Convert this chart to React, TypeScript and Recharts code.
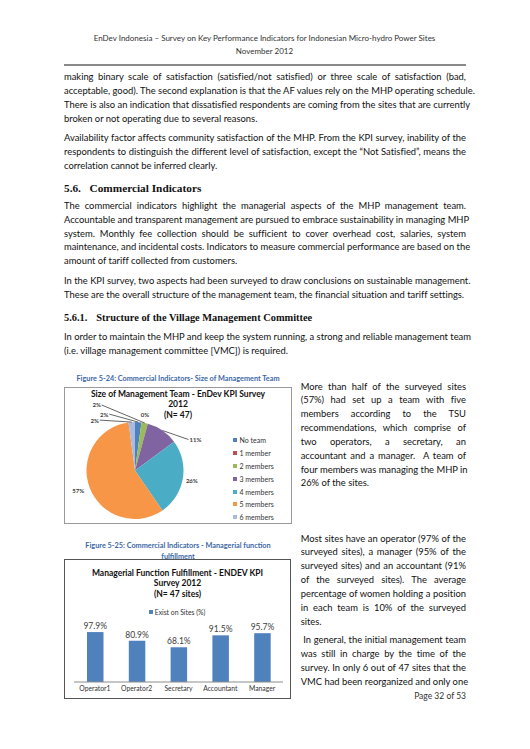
import { PieChart, Pie, Cell, Legend, BarChart, Bar, XAxis, YAxis, LabelList } from 'recharts'

// pie: size of management team (sites out of 47)
const teamSizes = ['No team', '1 member', '2 members', '3 members', '4 members', '5 members', '6 members']
const teamSites = [1, 0, 1, 5, 12, 27, 1]
const teamColors = ['#4F81BD', '#C0504D', '#9BBB59', '#8064A2', '#4BACC6', '#F79646', '#A9BBDF']

// bars: managerial function fulfillment
const roles = ['Operator1', 'Operator2', 'Secretary', 'Accountant', 'Manager']
const roleShares = [97.9, 80.9, 68.1, 91.5, 95.7]

const teamData = teamSizes.map((size, i) => ({ size, sites: teamSites[i] }))
const roleData = roles.map((role, i) => ({ role, share: roleShares[i] }))

const headerLines = [
  'EnDev Indonesia \u2013 Survey on Key Performance Indicators for Indonesian Micro-hydro Power Sites',
  'November 2012',
]

const para1 = [
  'making binary scale of satisfaction (satisfied/not satisfied) or three scale of satisfaction (bad,',
  'acceptable, good). The second explanation is that the AF values rely on the MHP operating schedule.',
  'There is also an indication that dissatisfied respondents are coming from the sites that are currently',
  'broken or not operating due to several reasons.',
]
const para2 = [
  'Availability factor affects community satisfaction of the MHP. From the KPI survey, inability of the',
  'respondents to distinguish the different level of satisfaction, except the \u201cNot Satisfied\u201d, means the',
  'correlation cannot be inferred clearly.',
]
const para3 = [
  'The commercial indicators highlight the managerial aspects of the MHP management team.',
  'Accountable and transparent management are pursued to embrace sustainability in managing MHP',
  'system. Monthly fee collection should be sufficient to cover overhead cost, salaries, system',
  'maintenance, and incidental costs. Indicators to measure commercial performance are based on the',
  'amount of tariff collected from customers.',
]
const para4 = [
  'In the KPI survey, two aspects had been surveyed to draw conclusions on sustainable management.',
  'These are the overall structure of the management team, the financial situation and tariff settings.',
]
const para5 = [
  'In order to maintain the MHP and keep the system running, a strong and reliable management team',
  '(i.e. village management committee [VMC]) is required.',
]
const side1 = [
  'More than half of the surveyed sites',
  '(57%) had set up a team with five',
  'members according to the TSU',
  'recommendations, which comprise of',
  'two operators, a secretary, an',
  'accountant and a manager.  A team of',
  'four members was managing the MHP in',
  '26% of the sites.',
]
const side2 = [
  'Most sites have an operator (97% of the',
  'surveyed sites), a manager (95% of the',
  'surveyed sites) and an accountant (91%',
  'of the surveyed sites). The average',
  'percentage of women holding a position',
  'in each team is 10% of the surveyed',
  'sites.',
]
const side3 = [
  '\u00a0In general, the initial management team',
  'was still in charge by the time of the',
  'survey. In only 6 out of 47 sites that the',
  'VMC had been reorganized and only one',
]

const FONT = 'Lato, "Open Sans", sans-serif'
const LINE = 13.85

function Para({ lines, x, y, w, justifyLast = false }: { lines: string[]; x: number; y: number; w: number; justifyLast?: boolean }) {
  return (
    <>
      {lines.map((t, i) => {
        const just = i < lines.length - 1 || justifyLast
        return (
          <div
            key={i}
            style={{
              position: 'absolute',
              left: x,
              top: y + i * LINE - 7,
              width: w,
              height: 14,
              lineHeight: '14px',
              fontSize: 9.4,
              color: '#111',
              textAlign: just ? 'justify' : 'left',
              textAlignLast: just ? 'justify' : 'auto',
              whiteSpace: 'pre',
              fontVariantLigatures: 'none',
            }}
          >
            {t}
          </div>
        )
      })}
    </>
  )
}

const RAD = Math.PI / 180
// label nudges from each slice's outer edge: dx, dy, leader line
const labelNudges: [number, number, boolean][] = [
  [-34, -8, true],
  [3.5, -7.5, false],
  [-48, -18, true],
  [33, 9, true],
  [9, 2, false],
  [-11.5, 2.7, false],
  [-37, -2, true],
]

function renderPieLabel(props: any) {
  const { cx, cy, midAngle, outerRadius, percent, index } = props
  const ax = cx + outerRadius * Math.cos(-midAngle * RAD)
  const ay = cy + outerRadius * Math.sin(-midAngle * RAD)
  const [dx, dy, lead] = labelNudges[index]
  const lx = ax + dx
  const ly = ay + dy
  const ex = dx < 0 ? lx + 5 : lx - 7
  return (
    <g key={`pl-${index}`}>
      {lead && <polyline points={`${ax},${ay} ${ex},${ly}`} stroke="#222" strokeWidth={0.7} fill="none" />}
      <text x={lx} y={ly} textAnchor="middle" dominantBaseline="central" fontSize={6} fontWeight={700} fill="#404040" fontFamily={FONT}>
        {`${Math.round(percent * 100)}%`}
      </text>
    </g>
  )
}

function TeamLegend() {
  return (
    <div style={{ fontFamily: FONT, fontSize: 7, color: '#333' }}>
      {teamSizes.map((s, i) => (
        <div key={s} style={{ display: 'flex', alignItems: 'center', height: 12.8 }}>
          <span style={{ width: 4, height: 4, background: teamColors[i], marginRight: 3 }} />
          {s}
        </div>
      ))}
    </div>
  )
}

function RoleLegend() {
  return (
    <div style={{ fontFamily: FONT, fontSize: 6.8, color: '#333', display: 'flex', justifyContent: 'center', alignItems: 'center' }}>
      <span style={{ width: 4, height: 4, background: '#4F81BD', marginRight: 2 }} />
      Exist on Sites (%)
    </div>
  )
}

const headingStyle = {
  position: 'absolute' as const,
  fontFamily: '"Liberation Serif", serif',
  fontWeight: 700,
  color: '#111',
  whiteSpace: 'pre' as const,
}

const captionStyle = {
  position: 'absolute' as const,
  left: 64,
  width: 228,
  textAlign: 'center' as const,
  fontSize: 7.3,
  fontWeight: 700,
  color: '#3B67A6',
  lineHeight: '11px',
}

const chartTitle = {
  position: 'absolute' as const,
  left: 0,
  width: '100%',
  textAlign: 'center' as const,
  fontWeight: 700,
  color: '#111',
}

export default function App() {
  return (
    <div style={{ position: 'relative', width: 530, height: 749, background: '#fff', fontFamily: FONT, overflow: 'hidden' }}>
      <style>{'body{margin:0}'}</style>

      {headerLines.map((t, i) => (
        <div key={t} style={{ position: 'absolute', left: 0, width: 529, top: 33 + i * 12.5, textAlign: 'center', fontSize: 8, lineHeight: '10px', color: '#333' }}>
          {t}
        </div>
      ))}
      <div style={{ position: 'absolute', left: 64, width: 402, top: 64, height: 1.6, background: '#8a8a8a' }} />

      <Para lines={para1} x={64} y={77} w={402} />
      <Para lines={para2} x={64} y={137.8} w={402} />
      <div style={{ ...headingStyle, left: 64, top: 181.5, fontSize: 11.3 }}>5.6.</div>
      <div style={{ ...headingStyle, left: 89.5, top: 181.5, fontSize: 11.3 }}>Commercial Indicators</div>
      <Para lines={para3} x={64} y={205.9} w={402} />
      <Para lines={para4} x={64} y={281} w={402} />
      <div style={{ ...headingStyle, left: 64, top: 311.5, fontSize: 10.4 }}>5.6.1.</div>
      <div style={{ ...headingStyle, left: 96.3, top: 311.5, fontSize: 10.4 }}>Structure of the Village Management Committee</div>
      <Para lines={para5} x={64} y={337} w={402} />

      <div style={{ ...captionStyle, top: 373 }}>Figure 5-24: Commercial Indicators- Size of Management Team</div>

      <Para lines={side1} x={300.7} y={386.5} w={165.3} />
      <Para lines={side2} x={300.7} y={538.5} w={165.3} />
      <Para lines={side3} x={300.7} y={640} w={165.3} justifyLast />
      <div style={{ position: 'absolute', right: 64, top: 690, fontSize: 8.5, lineHeight: '12px', color: '#333' }}>Page 32 of 53</div>

      {/* pie chart box */}
      <div style={{ position: 'absolute', left: 64, top: 387, width: 226, height: 135, border: '1px solid #9a9a9a', background: '#fff' }}>
        <div style={{ ...chartTitle, top: 1, fontSize: 8.5, lineHeight: '10.3px' }}>
          Size of Management Team - EnDev KPI Survey
          <br />
          2012
          <br />
          (N= 47)
        </div>
        <PieChart width={226} height={135} style={{ position: 'absolute', left: 0, top: 0 }}>
          <Pie
            data={teamData}
            dataKey="sites"
            nameKey="size"
            cx={65}
            cy={77.5}
            outerRadius={48.5}
            startAngle={90}
            endAngle={-270}
            stroke="none"
            label={renderPieLabel}
            labelLine={false}
            isAnimationActive={false}
          >
            {teamData.map((d, i) => (
              <Cell key={d.size} fill={teamColors[i]} />
            ))}
          </Pie>
          <Legend
            layout="vertical"
            align="right"
            verticalAlign="middle"
            content={TeamLegend}
            wrapperStyle={{ left: 167.5, top: 46, width: 60, right: 'auto', bottom: 'auto' }}
          />
        </PieChart>
      </div>

      <div style={{ ...captionStyle, top: 540 }}>
        Figure 5-25: Commercial Indicators - Managerial function
        <br />
        fulfillment
      </div>

      {/* bar chart box */}
      <div style={{ position: 'absolute', left: 64, top: 559, width: 225, height: 138, border: '1px solid #555', background: '#fff' }}>
        <div style={{ ...chartTitle, top: 8, fontSize: 8.5, lineHeight: '10.4px' }}>
          Managerial Function Fulfillment - ENDEV KPI
          <br />
          Survey 2012
          <br />
          (N= 47 sites)
        </div>
        <BarChart width={224} height={137} data={roleData} margin={{ top: 71, right: 6, bottom: 1, left: 9 }} style={{ position: 'absolute', left: 0, top: 0 }}>
          <XAxis
            dataKey="role"
            interval={0}
            height={14}
            tickLine={false}
            tickSize={2}
            tickMargin={2}
            axisLine={{ stroke: '#8c8c8c' }}
            tick={{ fontSize: 6.8, fill: '#333', fontFamily: FONT }}
          />
          <YAxis hide domain={[0, 100]} />
          <Legend
            layout="horizontal"
            align="center"
            verticalAlign="middle"
            content={RoleLegend}
            wrapperStyle={{ left: 0, top: 48, width: 224, right: 'auto', bottom: 'auto' }}
          />
          <Bar dataKey="share" fill="#4F81BD" barSize={16.5} isAnimationActive={false}>
            <LabelList
              dataKey="share"
              position="top"
              offset={3}
              formatter={(v: any) => `${Number(v).toFixed(1)}%`}
              style={{ fontSize: 8.5, fill: '#404040', fontFamily: FONT }}
            />
          </Bar>
        </BarChart>
      </div>
    </div>
  )
}
